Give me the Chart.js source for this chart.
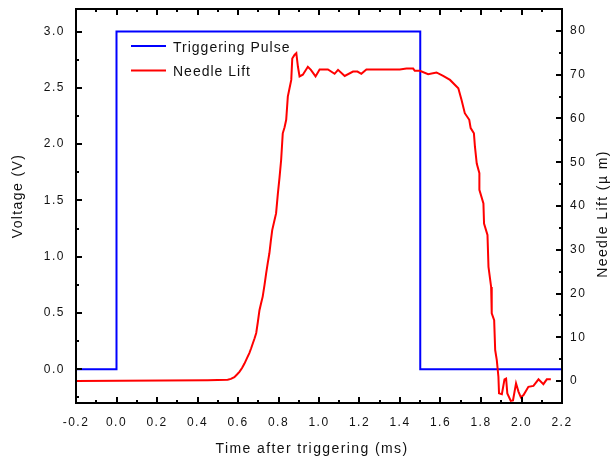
<!DOCTYPE html>
<html>
<head>
<meta charset="utf-8">
<script src="https://cdn.jsdelivr.net/npm/chart.js@4.4.1/dist/chart.umd.min.js"></script>
<style>
  html, body { margin: 0; padding: 0; background: #fff; }
  #wrap { width: 612px; height: 457px; }
</style>
</head>
<body>
<div id="wrap"><canvas id="chart" width="612" height="457"></canvas></div>
<script>
// triggering pulse (left axis, V)
const pulseTime = [-0.2, 0, 0, 1.5, 1.5, 2.2];
const pulseVolt = [0, 0, 3, 3, 0, 0];

// needle lift (right axis, um)
const liftTime = [-0.2, 0.45, 0.549, 0.565, 0.582, 0.595, 0.607, 0.62, 0.632, 0.645, 0.656, 0.665, 0.673, 0.682,
  0.69, 0.698, 0.706, 0.714, 0.722, 0.731, 0.739, 0.747, 0.755, 0.762, 0.769, 0.779, 0.788, 0.797, 0.805, 0.813,
  0.821, 0.83, 0.838, 0.846, 0.855, 0.863, 0.868, 0.879, 0.888, 0.896, 0.904, 0.92, 0.945, 0.96, 0.983, 1.003,
  1.044, 1.077, 1.094, 1.127, 1.168, 1.19, 1.209, 1.234, 1.30, 1.333, 1.399, 1.432, 1.465, 1.473, 1.498, 1.539,
  1.58, 1.613, 1.647, 1.688, 1.704, 1.72, 1.742, 1.749, 1.765, 1.77, 1.779, 1.792, 1.792, 1.812, 1.815, 1.832,
  1.837, 1.85, 1.853, 1.865, 1.87, 1.878, 1.886, 1.889, 1.903, 1.916, 1.924, 1.93, 1.947, 1.958, 1.973, 1.985,
  1.997, 2.01, 2.034, 2.059, 2.084, 2.108, 2.125, 2.145];
const liftUm = [0.0, 0.2, 0.3, 0.5, 0.9, 1.5, 2.1, 3.0, 4.0, 5.3, 6.4, 7.5, 8.6, 9.8,
  11.0, 13.5, 16.2, 17.8, 19.3, 22.0, 24.6, 27.0, 29.2, 32.0, 34.5, 36.5, 38.3, 42.9, 46.5, 50.5,
  56.6, 58.0, 59.7, 65.0, 67.0, 68.8, 73.7, 74.5, 74.9, 71.8, 69.6, 70.0, 71.8, 71.1, 69.6, 71.2,
  71.2, 70.2, 71.1, 69.7, 70.7, 70.7, 70.2, 71.2, 71.2, 71.2, 71.2, 71.4, 71.4, 70.9, 70.9, 70.1,
  70.5, 69.7, 68.8, 66.9, 64.2, 61.2, 59.7, 57.8, 56.6, 53.6, 49.7, 47.5, 43.7, 40.6, 36.0, 33.4,
  26.1, 21.5, 15.5, 13.9, 7.1, 4.8, 1.0, -2.8, -3.0, 0.4, 0.6, -2.8, -4.5, -4.4, -0.5, -2.4,
  -3.7, -3.2, -1.3, -1.1, 0.4, -0.7, 0.4, 0.4];

const timeTicks = [-0.2, 0, 0.2, 0.4, 0.6, 0.8, 1.0, 1.2, 1.4, 1.6, 1.8, 2.0, 2.2];
const voltTicks = [0, 0.5, 1.0, 1.5, 2.0, 2.5, 3.0];
const liftTicks = [0, 10, 20, 30, 40, 50, 60, 70, 80];

const FONT = 'Arial, "Liberation Sans", sans-serif';

function fmt1(v) {
  if (Math.abs(v) < 1e-9) v = 0;
  return v.toFixed(1);
}

// minor ticks half way between the major ones, kept inside the axis range
function minors(ticks, min, max) {
  const step = ticks[1] - ticks[0];
  const out = [];
  for (let v = ticks[0] - step / 2; v < max + 1e-9; v += step) {
    if (v > min + 1e-9 && v < max - 1e-9) out.push(v);
  }
  return out;
}

// no extra room for the end labels, the plot box is fixed by hand
function noPad(s) {
  s.paddingTop = 0;
  s.paddingBottom = 0;
  s.paddingLeft = 0;
  s.paddingRight = 0;
}

const framePlugin = {
  id: 'frame',
  beforeDraw(chart) {
    chart.ctx.letterSpacing = '1.5px';
  },
  afterDraw(chart) {
    const ctx = chart.ctx;
    const a = chart.chartArea;
    const sx = chart.scales.x, sy = chart.scales.y, sy2 = chart.scales.y2;
    ctx.save();
    ctx.strokeStyle = '#000';
    ctx.lineWidth = 2;
    ctx.strokeRect(a.left, a.top, a.right - a.left, a.bottom - a.top);

    const major = 6, minor = 3;
    ctx.beginPath();
    const xTick = (v, len) => {
      const p = Math.round(sx.getPixelForValue(v));
      ctx.moveTo(p, a.bottom); ctx.lineTo(p, a.bottom - len);
      ctx.moveTo(p, a.top); ctx.lineTo(p, a.top + len);
    };
    timeTicks.forEach(v => xTick(v, major));
    minors(timeTicks, sx.min, sx.max).forEach(v => xTick(v, minor));
    const yTick = (v, len) => {
      const p = Math.round(sy.getPixelForValue(v));
      ctx.moveTo(a.left, p); ctx.lineTo(a.left + len, p);
    };
    voltTicks.forEach(v => yTick(v, major));
    minors(voltTicks, sy.min, sy.max).forEach(v => yTick(v, minor));
    const y2Tick = (v, len) => {
      const p = Math.round(sy2.getPixelForValue(v));
      ctx.moveTo(a.right, p); ctx.lineTo(a.right - len, p);
    };
    liftTicks.forEach(v => y2Tick(v, major));
    minors(liftTicks, sy2.min, sy2.max).forEach(v => y2Tick(v, minor));
    ctx.stroke();

    // axis titles
    ctx.fillStyle = '#111';
    ctx.font = '14px ' + FONT;
    ctx.letterSpacing = '1.4px';
    ctx.textAlign = 'center';
    ctx.textBaseline = 'middle';
    ctx.fillText('Time after triggering (ms)', 312, 449);
    ctx.save();
    ctx.translate(18, 196);
    ctx.rotate(-Math.PI / 2);
    ctx.fillText('Voltage (V)', 0, 0);
    ctx.restore();
    ctx.save();
    ctx.translate(603, 214);
    ctx.rotate(-Math.PI / 2);
    ctx.fillText('Needle Lift (\u00b5 m)', 0, 0);
    ctx.restore();

    // legend inside the plot
    ctx.letterSpacing = '1px';
    ctx.textAlign = 'left';
    chart.data.datasets.forEach((ds, i) => {
      const ly = 46 + i * 24.5;
      ctx.strokeStyle = ds.borderColor;
      ctx.lineWidth = 2;
      ctx.beginPath();
      ctx.moveTo(131, ly); ctx.lineTo(166, ly);
      ctx.stroke();
      ctx.fillStyle = '#111';
      ctx.fillText(ds.label, 173, ly + 2);
    });
    ctx.restore();
  }
};

new Chart(document.getElementById('chart'), {
  type: 'line',
  data: {
    datasets: [
      {
        label: 'Triggering Pulse',
        data: pulseTime.map((t, i) => ({ x: t, y: pulseVolt[i] })),
        borderColor: '#0000ff',
        borderWidth: 2,
        pointRadius: 0,
        tension: 0,
        yAxisID: 'y',
        order: 1
      },
      {
        label: 'Needle Lift',
        data: liftTime.map((t, i) => ({ x: t, y: liftUm[i] })),
        borderColor: '#ff0000',
        borderWidth: 2,
        pointRadius: 0,
        tension: 0,
        yAxisID: 'y2',
        order: 0
      }
    ]
  },
  options: {
    responsive: false,
    animation: false,
    devicePixelRatio: 1,
    layout: { padding: { top: 9, left: 0, right: 0, bottom: 0 } },
    plugins: {
      legend: { display: false },
      tooltip: { enabled: false }
    },
    scales: {
      x: {
        type: 'linear',
        min: -0.2,
        max: 2.2,
        grid: { display: false, drawTicks: false },
        border: { display: false },
        afterBuildTicks: s => { s.ticks = timeTicks.map(v => ({ value: v })); },
        afterFit: s => { s.height = 54; noPad(s); },
        ticks: {
          padding: 12,
          autoSkip: false,
          maxRotation: 0,
          color: '#111',
          font: { family: FONT, size: 12 },
          callback: v => fmt1(v)
        }
      },
      y: {
        position: 'left',
        min: -0.3,
        max: 3.2,
        grid: { display: false, drawTicks: false },
        border: { display: false },
        afterBuildTicks: s => { s.ticks = voltTicks.map(v => ({ value: v })); },
        afterFit: s => { s.width = 76; noPad(s); },
        ticks: {
          padding: 11,
          color: '#111',
          font: { family: FONT, size: 12 },
          callback: v => fmt1(v)
        }
      },
      y2: {
        position: 'right',
        min: -5,
        max: 85,
        grid: { display: false, drawTicks: false },
        border: { display: false },
        afterBuildTicks: s => { s.ticks = liftTicks.map(v => ({ value: v })); },
        afterFit: s => { s.width = 50; noPad(s); },
        ticks: {
          padding: 8,
          color: '#111',
          font: { family: FONT, size: 12 },
          callback: v => String(v)
        }
      }
    }
  },
  plugins: [framePlugin]
});
</script>
</body>
</html>
